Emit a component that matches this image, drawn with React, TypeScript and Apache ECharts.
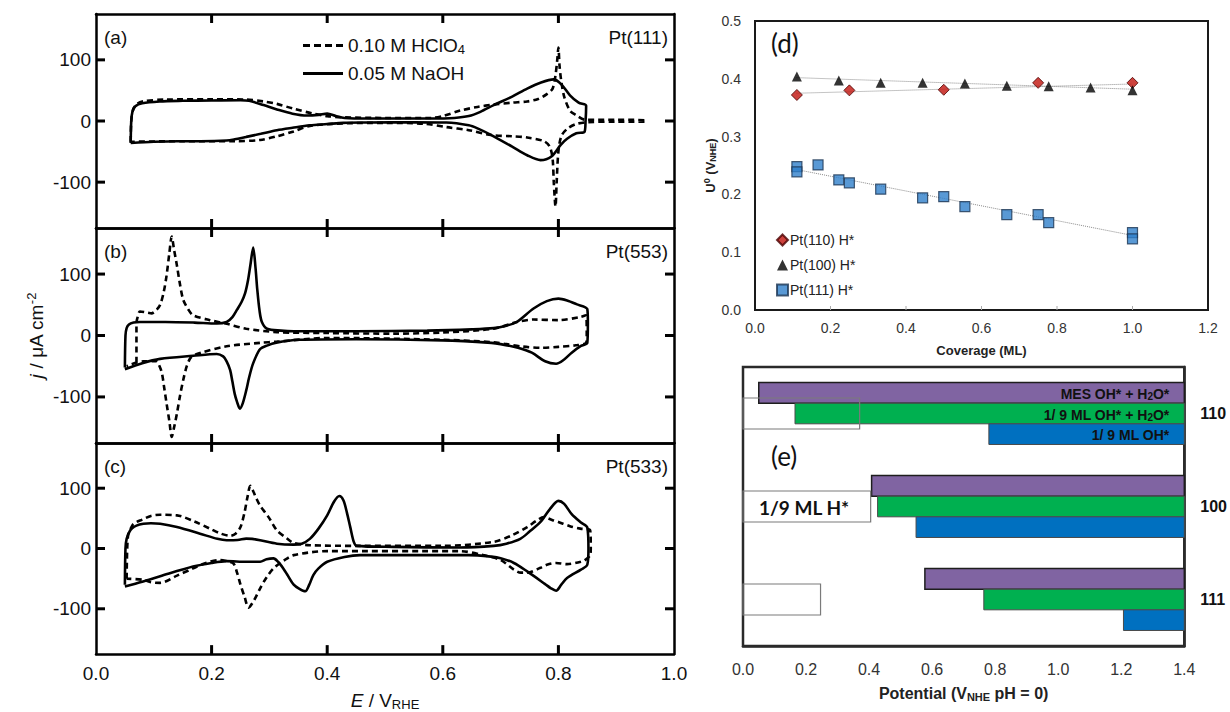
import React, { useEffect, useRef } from 'react';
import * as echarts from 'echarts';

// ---------- Panels (a)-(c): cyclic voltammograms, [E (V_RHE), j (uA cm-2)] ----------
const aHClO4: number[][] = [
  [0.06, -34], [0.061, 0], [0.064, 18], [0.07, 27], [0.08, 32], [0.12, 35], [0.2, 35.5], [0.26, 35], [0.29, 32],
  [0.313, 28], [0.342, 20], [0.376, 12], [0.4, 8], [0.428, 6], [0.5, 5], [0.58, 5], [0.6, 8], [0.63, 17], [0.66, 23],
  [0.688, 27], [0.72, 30], [0.746, 32], [0.765, 36], [0.78, 44], [0.79, 53], [0.795, 75], [0.798, 100], [0.8, 120],
  [0.802, 90], [0.805, 65], [0.81, 40], [0.82, 17], [0.83, 10], [0.847, 2], [0.9, 2], [0.951, 1],
  [0.951, -1], [0.9, -1], [0.85, -2], [0.83, -5], [0.815, -13], [0.805, -25], [0.8, -50], [0.797, -100], [0.795, -140],
  [0.792, -100], [0.79, -62], [0.785, -42], [0.775, -33], [0.746, -27], [0.72, -25], [0.684, -23], [0.645, -15],
  [0.606, -10], [0.568, -4.5], [0.5, -3], [0.428, -4], [0.37, -8], [0.342, -17], [0.313, -25], [0.284, -31],
  [0.24, -33], [0.15, -33], [0.06, -34],
];
const aNaOH: number[][] = [
  [0.06, -36], [0.061, 0], [0.063, 15], [0.068, 24], [0.08, 29], [0.11, 32], [0.15, 33], [0.2, 33.5], [0.25, 34],
  [0.265, 33], [0.29, 26], [0.313, 19], [0.34, 12], [0.365, 9], [0.385, 10], [0.4, 12], [0.415, 8], [0.43, 5],
  [0.47, 4], [0.52, 4], [0.58, 4], [0.62, 5], [0.645, 8], [0.665, 15], [0.688, 26], [0.72, 40], [0.746, 53],
  [0.77, 63], [0.792, 68], [0.805, 60], [0.82, 42], [0.835, 30], [0.848, 25], [0.847, 0], [0.845, -18],
  [0.831, -20], [0.815, -29], [0.804, -39], [0.788, -58], [0.769, -64], [0.746, -56], [0.72, -42], [0.684, -23],
  [0.66, -12], [0.645, -7], [0.606, -2.5], [0.55, -2], [0.47, -2.5], [0.428, -3], [0.4, -5], [0.37, -7], [0.34, -11],
  [0.313, -15], [0.285, -21], [0.26, -26], [0.24, -30], [0.226, -32], [0.18, -33], [0.14, -33], [0.1, -34], [0.06, -36],
];
const bHClO4: number[][] = [
  [0.07, -44], [0.07, 20], [0.072, 30], [0.076, 39], [0.09, 37], [0.096, 36], [0.105, 42], [0.111, 50], [0.117, 70],
  [0.122, 97], [0.127, 135], [0.131, 161], [0.135, 140], [0.14, 114], [0.145, 85], [0.151, 58], [0.16, 42],
  [0.168, 33], [0.197, 25], [0.226, 19], [0.26, 11], [0.313, 5.5], [0.4, 4], [0.515, 3], [0.6, 5], [0.688, 11],
  [0.728, 22], [0.757, 26], [0.8, 25], [0.838, 30], [0.848, 33], [0.849, 0], [0.848, -12],
  [0.83, -16], [0.8, -18.5], [0.77, -20], [0.738, -18], [0.71, -14], [0.688, -11], [0.6, -7], [0.4, -4],
  [0.313, -10], [0.284, -12], [0.226, -17.5], [0.18, -28.6], [0.168, -33], [0.163, -37], [0.157, -50],
  [0.151, -72], [0.145, -100], [0.14, -127], [0.135, -150], [0.131, -165], [0.127, -140], [0.122, -110],
  [0.118, -85], [0.114, -61], [0.109, -48], [0.105, -42], [0.082, -42], [0.053, -50],
];
const bNaOH: number[][] = [
  [0.05, -52], [0.051, 0], [0.053, 12], [0.057, 18], [0.065, 21], [0.076, 22], [0.12, 22], [0.17, 21], [0.209, 19.5],
  [0.226, 22], [0.236, 30], [0.244, 42], [0.252, 55], [0.258, 69], [0.263, 90], [0.267, 114], [0.272, 143],
  [0.276, 110], [0.279, 75], [0.283, 40], [0.287, 22], [0.296, 11], [0.32, 8], [0.342, 7], [0.45, 7], [0.573, 8],
  [0.65, 10], [0.688, 12], [0.71, 16], [0.728, 22], [0.757, 44], [0.78, 56], [0.8, 60], [0.815, 57], [0.831, 51],
  [0.85, 43], [0.851, 20], [0.85, -12],
  [0.839, -17], [0.823, -28], [0.81, -39], [0.796, -46], [0.777, -42], [0.754, -28], [0.73, -20], [0.7, -14],
  [0.684, -12], [0.6, -8], [0.45, -6], [0.35, -7], [0.31, -12], [0.297, -16], [0.284, -22], [0.272, -45],
  [0.265, -68], [0.26, -89], [0.254, -110], [0.249, -119], [0.244, -108], [0.24, -95], [0.236, -75], [0.232, -56],
  [0.226, -42], [0.22, -34], [0.209, -30], [0.168, -33], [0.111, -38], [0.08, -45], [0.05, -55],
];
const cHClO4: number[][] = [
  [0.053, -50], [0.054, 0], [0.056, 25], [0.06, 33], [0.065, 41], [0.08, 48], [0.095, 54], [0.111, 56], [0.14, 55],
  [0.17, 45], [0.197, 33], [0.215, 25], [0.232, 21], [0.242, 25], [0.25, 35.5], [0.257, 60], [0.262, 85],
  [0.267, 104], [0.272, 95], [0.278, 82], [0.284, 71], [0.3, 50], [0.313, 30], [0.33, 17], [0.342, 9.3],
  [0.37, 5.5], [0.45, 4.4], [0.6, 4.4], [0.688, 11], [0.72, 22], [0.746, 35.5], [0.762, 46], [0.775, 52],
  [0.79, 47], [0.8, 44], [0.82, 37], [0.838, 33], [0.855, 30], [0.856, 0], [0.855, -11],
  [0.845, -20], [0.839, -22], [0.815, -26], [0.796, -24], [0.78, -27], [0.769, -32], [0.746, -40], [0.735, -40],
  [0.723, -35], [0.7, -19], [0.67, -11], [0.63, -4.4], [0.4, -4.4], [0.342, -11], [0.325, -20], [0.307, -33],
  [0.295, -48], [0.284, -66], [0.274, -85], [0.264, -98], [0.257, -80], [0.25, -60], [0.244, -40], [0.238, -25],
  [0.226, -21], [0.215, -19], [0.19, -24], [0.168, -33], [0.14, -45], [0.111, -57], [0.095, -56], [0.082, -52],
  [0.053, -50],
];
const cNaOH: number[][] = [
  [0.05, -60], [0.051, 0], [0.053, 16], [0.058, 28], [0.062, 33], [0.07, 38], [0.082, 41], [0.095, 42], [0.111, 41],
  [0.14, 35.5], [0.18, 24.6], [0.21, 16], [0.226, 13.7], [0.245, 14], [0.26, 16.4], [0.27, 16], [0.284, 13.7],
  [0.313, 8], [0.342, 6.5], [0.356, 8], [0.37, 16], [0.385, 33], [0.4, 55], [0.412, 78], [0.421, 87], [0.428, 80],
  [0.434, 60], [0.44, 35], [0.446, 11], [0.451, 4.4], [0.515, 2.7], [0.63, 1.6], [0.688, 4.4], [0.71, 8],
  [0.734, 16], [0.75, 28], [0.769, 44], [0.785, 65], [0.8, 79], [0.81, 74], [0.823, 57], [0.839, 43], [0.85, 35],
  [0.852, 0], [0.85, -27],
  [0.839, -35], [0.815, -49], [0.805, -60], [0.796, -70], [0.787, -66], [0.777, -59], [0.746, -38], [0.723, -24],
  [0.7, -16], [0.684, -13.5], [0.645, -11], [0.55, -11], [0.457, -11], [0.43, -14], [0.4, -22], [0.385, -33],
  [0.376, -44], [0.369, -60], [0.362, -71], [0.352, -67], [0.342, -60], [0.332, -45], [0.324, -33], [0.315, -22],
  [0.307, -16.4], [0.295, -18], [0.284, -22], [0.26, -22], [0.226, -21], [0.2, -24], [0.168, -30], [0.111, -46],
  [0.08, -55], [0.05, -63],
];
const cvHClO4 = [aHClO4, bHClO4, cHClO4];
const cvNaOH = [aNaOH, bNaOH, cNaOH];
const cvTags = ['(a)', '(b)', '(c)'];
const cvSurfaces = ['Pt(111)', 'Pt(553)', 'Pt(533)'];
const cvXTicks = [0.2, 0.4, 0.6, 0.8];
const cvYTicks = [-100, 0, 100];
const cvXRange = [0, 1];
const cvYRange = [-175, 175];
const nameHClO4 = '0.10 M HClO4';
const nameNaOH = '0.05 M NaOH';

// ---------- Panel (d): U0 vs coverage ----------
const pt110: number[][] = [[0.111, 0.372], [0.25, 0.38], [0.5, 0.381], [0.75, 0.393], [1.0, 0.393]];
const pt100: number[][] = [
  [0.111, 0.404], [0.222, 0.397], [0.333, 0.393], [0.444, 0.393], [0.556, 0.392], [0.667, 0.388], [0.778, 0.387],
  [0.889, 0.385], [1.0, 0.38],
];
const pt111: number[][] = [
  [0.111, 0.248], [0.111, 0.239], [0.167, 0.251], [0.222, 0.225], [0.25, 0.22], [0.333, 0.209], [0.444, 0.194],
  [0.5, 0.196], [0.556, 0.179], [0.667, 0.165], [0.75, 0.165], [0.778, 0.151], [1.0, 0.134], [1.0, 0.123],
];
const trend110: number[][] = [[0.11, 0.375], [1.0, 0.391]];
const trend100: number[][] = [[0.11, 0.402], [1.0, 0.382]];
const trend111: number[][] = [[0.11, 0.243], [1.0, 0.129]];
const dXTicks = [0.2, 0.4, 0.6, 0.8, 1.0];
const dXRange = [0, 1.2];
const dYRange = [0, 0.5];

// ---------- Panel (e): onset potentials ----------
const eCategories = ['111', '100', '110'];
const eMesOHH2O = [0.577, 0.408, 0.05];
const eOHH2O = [0.764, 0.427, 0.165];
const eOH = [1.207, 0.549, 0.78];
const eH = [0.246, 0.405, 0.37];
const eMax = 1.4;
const eBarLabels = [
  ['', '', ''],
  ['', '', ''],
  ['{b|MES OH* + H}{s|2}{b|O*}', '{b|1/ 9 ML OH* + H}{s|2}{b|O*}', '{b|1/ 9 ML OH*}'],
];
const eHLabels = ['', '1/9 ML H*', ''];

const SANS = 'Liberation Sans, Arial, sans-serif';
const LATO = 'Lato, Liberation Sans, sans-serif';
const barFill = ['#8064a2', '#00b050', '#0070c0'];
const barStroke = ['#1e1e1e', '#4a4a4a', '#4a4a4a'];
const dashedIcon = 'path://M0,0h7v3h-7zM11,0h7v3h-7zM22,0h7v3h-7zM33,0h7v3h-7z';
const solidIcon = 'path://M0,0h40v3h-40z';

// Short tick segments drawn as tiny line series on the panel's own axes.
function tickLines(
  axisIdx: number, xr: number[], yr: number[], xTicks: number[], yTicks: number[],
  gridW: number, gridH: number, lenPx: number, color: string, width: number,
  sides: { top: boolean; bottom: boolean; left: boolean; right: boolean },
): any[] {
  const dy = (lenPx / gridH) * (yr[1] - yr[0]);
  const dx = (lenPx / gridW) * (xr[1] - xr[0]);
  const segs: number[][][] = [];
  xTicks.forEach((v) => {
    if (sides.bottom) segs.push([[v, yr[0]], [v, yr[0] + dy]]);
    if (sides.top) segs.push([[v, yr[1]], [v, yr[1] - dy]]);
  });
  yTicks.forEach((v) => {
    if (sides.left) segs.push([[xr[0], v], [xr[0] + dx, v]]);
    if (sides.right) segs.push([[xr[1], v], [xr[1] - dx, v]]);
  });
  return segs.map((seg) => ({
    type: 'line', xAxisIndex: axisIdx, yAxisIndex: axisIdx, data: seg, symbol: 'none', silent: true,
    clip: false, z: 6, lineStyle: { color, width, cap: 'butt' }, tooltip: { show: false },
  }));
}

function buildOption(): any {
  const grids: any[] = [];
  const xAxis: any[] = [];
  const yAxis: any[] = [];
  const series: any[] = [];
  const graphic: any[] = [];
  const cvTops = [14, 228, 443];
  const cvHeights = [214, 215, 214];
  const cvLine = () => ({ show: true, onZero: false, lineStyle: { color: '#000', width: 2.5 } });

  for (let i = 0; i < 3; i++) {
    grids.push({ left: 96, top: cvTops[i], width: 578, height: cvHeights[i], show: false });
    xAxis.push({
      type: 'value', gridIndex: i, min: cvXRange[0], max: cvXRange[1], interval: 0.2, position: 'bottom',
      axisLine: cvLine(), axisTick: { show: false }, splitLine: { show: false },
      axisLabel: {
        show: i === 2, fontSize: 19, color: '#111', fontFamily: SANS, margin: 10,
        formatter: (v: number) => v.toFixed(1),
      },
      ...(i === 2
        ? {
          name: '{i|E} / V{s|RHE}', nameLocation: 'middle', nameGap: 36,
          nameTextStyle: {
            fontSize: 19, color: '#111', fontFamily: SANS,
            rich: {
              i: { fontSize: 19, fontStyle: 'italic', fontFamily: SANS, color: '#111' },
              s: { fontSize: 13, fontFamily: SANS, color: '#111', verticalAlign: 'bottom', padding: [8, 0, 0, 0] },
            },
          },
        }
        : {}),
    });
    xAxis.push({
      type: 'value', gridIndex: i, min: cvXRange[0], max: cvXRange[1], interval: 0.2, position: 'top',
      axisLine: cvLine(), axisTick: { show: false }, splitLine: { show: false }, axisLabel: { show: false },
    });
    yAxis.push({
      type: 'value', gridIndex: i, min: cvYRange[0], max: cvYRange[1], position: 'left',
      axisLine: cvLine(), splitLine: { show: false }, axisTick: { show: false },
      axisLabel: { customValues: cvYTicks, fontSize: 19, color: '#111', fontFamily: SANS, margin: 5 },
      ...(i === 1
        ? {
          name: '{i|j} / μA cm{p|-2}', nameLocation: 'middle', nameRotate: 90, nameGap: 48,
          nameTextStyle: {
            fontSize: 19, color: '#111', fontFamily: SANS,
            rich: {
              i: { fontSize: 19, fontStyle: 'italic', fontFamily: SANS, color: '#111' },
              p: { fontSize: 13, fontFamily: SANS, color: '#111', verticalAlign: 'top', padding: [0, 0, 10, 0] },
            },
          },
        }
        : {}),
    });
    yAxis.push({
      type: 'value', gridIndex: i, min: cvYRange[0], max: cvYRange[1], position: 'right',
      axisLine: cvLine(), splitLine: { show: false }, axisTick: { show: false }, axisLabel: { show: false },
    });
    series.push({
      type: 'line', name: nameHClO4, xAxisIndex: 2 * i, yAxisIndex: 2 * i, data: cvHClO4[i],
      symbol: 'none', smooth: 0.3, lineStyle: { color: '#000', width: 2.6, type: [6, 4] },
      itemStyle: { color: '#000' },
    });
    series.push({
      type: 'line', name: nameNaOH, xAxisIndex: 2 * i, yAxisIndex: 2 * i, data: cvNaOH[i],
      symbol: 'none', smooth: 0.3, lineStyle: { color: '#000', width: 2.6, type: 'solid' },
      itemStyle: { color: '#000' },
    });
    series.push(...tickLines(2 * i, cvXRange, cvYRange, cvXTicks, cvYTicks, 578, cvHeights[i], 9, '#000', 3,
      { top: true, bottom: true, left: true, right: true }));
    const cy = cvTops[i] + 26;
    graphic.push({
      type: 'text', left: 104, top: cy - 12,
      style: { text: cvTags[i], font: `19px ${SANS}`, fill: '#111' },
    });
    graphic.push({
      type: 'text', right: 1230 - 668, top: cy - 12,
      style: { text: cvSurfaces[i], font: `19px ${SANS}`, fill: '#111' },
    });
  }

  // ---- panel (d)
  grids.push({ left: 755, top: 21, width: 453, height: 289, show: true, borderColor: '#1a1a1a', borderWidth: 2 });
  xAxis.push({
    type: 'value', gridIndex: 3, min: dXRange[0], max: dXRange[1], interval: 0.2,
    axisLine: { show: true, onZero: false, lineStyle: { color: '#1a1a1a', width: 2 } }, splitLine: { show: false },
    axisTick: { show: false },
    axisLabel: { fontSize: 14, color: '#333', fontFamily: SANS, margin: 11, formatter: (v: number) => v.toFixed(1) },
    name: 'Coverage (ML)', nameLocation: 'middle', nameGap: 34,
    nameTextStyle: { fontSize: 13, fontWeight: 'bold', color: '#222', fontFamily: SANS },
  });
  yAxis.push({
    type: 'value', gridIndex: 3, min: dYRange[0], max: dYRange[1], interval: 0.1,
    axisLine: { show: true, onZero: false, lineStyle: { color: '#1a1a1a', width: 2 } }, splitLine: { show: false },
    axisTick: { show: false },
    axisLabel: { fontSize: 14, color: '#333', fontFamily: SANS, margin: 14, formatter: (v: number) => v.toFixed(1) },
    name: '{b|U}{p|0}{b| (V}{s|NHE}{b|)}', nameLocation: 'middle', nameRotate: 90, nameGap: 34,
    nameTextStyle: {
      rich: {
        b: { fontSize: 13, fontWeight: 'bold', fontFamily: SANS, color: '#222' },
        p: { fontSize: 9, fontWeight: 'bold', fontFamily: SANS, color: '#222', verticalAlign: 'top', padding: [0, 0, 6, 0] },
        s: { fontSize: 9, fontWeight: 'bold', fontFamily: SANS, color: '#222', verticalAlign: 'bottom', padding: [5, 0, 0, 0] },
      },
    },
  });
  const trendStyle = { color: '#8a8a8a', width: 1, type: 'dotted' };
  [trend110, trend100, trend111].forEach((t) => {
    series.push({
      type: 'line', xAxisIndex: 6, yAxisIndex: 6, data: t, symbol: 'none', lineStyle: trendStyle,
      silent: true, z: 1,
    });
  });
  series.push({
    type: 'scatter', name: 'Pt(110) H*', xAxisIndex: 6, yAxisIndex: 6, data: pt110, symbol: 'diamond',
    symbolSize: 11, itemStyle: { color: '#c0130c', borderColor: '#4a0000', borderWidth: 1 }, z: 3,
  });
  series.push({
    type: 'scatter', name: 'Pt(100) H*', xAxisIndex: 6, yAxisIndex: 6, data: pt100, symbol: 'triangle',
    symbolSize: 10, itemStyle: { color: '#000' }, z: 3,
  });
  series.push({
    type: 'scatter', name: 'Pt(111) H*', xAxisIndex: 6, yAxisIndex: 6, data: pt111, symbol: 'rect',
    symbolSize: 10, itemStyle: { color: '#2f7fcb', borderColor: '#1b3553', borderWidth: 1.2 }, z: 3,
  });
  series.push(...tickLines(6, dXRange, dYRange, dXTicks, [], 453, 289, 4, '#aaaaaa', 1,
    { top: false, bottom: true, left: false, right: false }));
  graphic.push({
    type: 'text', left: 771, top: 30,
    style: { text: '(d)', font: `26px ${LATO}`, fill: '#111' },
  });

  // ---- panel (e)
  grids.push({ left: 743, top: 367, width: 443, height: 279, show: true, borderColor: '#2a2a2a', borderWidth: 2.5 });
  const eLine = () => ({ show: true, onZero: false, lineStyle: { color: '#2a2a2a', width: 2.5 } });
  xAxis.push({
    type: 'value', gridIndex: 4, min: 0, max: eMax, interval: 0.2,
    axisLine: eLine(), splitLine: { show: false }, axisTick: { show: false },
    axisLabel: { fontSize: 16, color: '#333', fontFamily: SANS, margin: 15, formatter: (v: number) => v.toFixed(1) },
    name: 'Potential (V{s|NHE}{b| pH = 0)}', nameLocation: 'middle', nameGap: 38,
    nameTextStyle: {
      fontSize: 16, fontWeight: 'bold', color: '#222', fontFamily: SANS,
      rich: {
        b: { fontSize: 16, fontWeight: 'bold', fontFamily: SANS, color: '#222' },
        s: { fontSize: 11, fontWeight: 'bold', fontFamily: SANS, color: '#222', verticalAlign: 'bottom', padding: [7, 0, 0, 0] },
      },
    },
  });
  yAxis.push({
    type: 'category', gridIndex: 4, data: eCategories, position: 'right',
    axisLine: eLine(), splitLine: { show: false }, axisTick: { show: false },
    axisLabel: { fontSize: 16, fontWeight: 'bold', color: '#111', fontFamily: SANS, margin: 16 },
  });

  const barData: any[] = [];
  [eMesOHH2O, eOHH2O, eOH].forEach((vals, slot) => {
    vals.forEach((v, cat) => barData.push([v, cat, slot]));
  });
  series.push({
    type: 'custom', xAxisIndex: 7, yAxisIndex: 7, data: barData, encode: { x: 0, y: 1 }, z: 2,
    renderItem: (params: any, api: any) => {
      const start = api.value(0);
      const cat = api.value(1);
      const slot = api.value(2);
      const p0 = api.coord([start, cat]);
      const p1 = api.coord([eMax, cat]);
      const band = api.size([0, 1])[1];
      const h = band * 0.222;
      const y = p0[1] - 1.5 * h + slot * h;
      const children: any[] = [{
        type: 'rect', shape: { x: p0[0], y, width: p1[0] - p0[0], height: h },
        style: { fill: barFill[slot], stroke: barStroke[slot], lineWidth: slot === 0 ? 1.5 : 1 },
      }];
      const lbl = eBarLabels[cat][slot];
      if (lbl) {
        children.push({
          type: 'text',
          style: {
            text: lbl, x: p1[0] - 15, y: y + h / 2 + 1, align: 'right', verticalAlign: 'middle',
            rich: {
              b: { fontSize: 14, fontWeight: 'bold', fontFamily: SANS, fill: '#111', lineHeight: 16 },
              s: { fontSize: 10, fontWeight: 'bold', fontFamily: SANS, fill: '#111', lineHeight: 10, verticalAlign: 'bottom', padding: [6, 0, 0, 0] },
            },
          },
        });
      }
      return { type: 'group', children };
    },
  });
  series.push({
    type: 'custom', xAxisIndex: 7, yAxisIndex: 7, data: eH.map((v, cat) => [v, cat]), encode: { x: 0, y: 1 }, z: 4,
    renderItem: (params: any, api: any) => {
      const v = api.value(0);
      const cat = api.value(1);
      const p0 = api.coord([0, cat]);
      const p1 = api.coord([v, cat]);
      const band = api.size([0, 1])[1];
      const h = band / 3;
      const children: any[] = [{
        type: 'rect', shape: { x: p0[0], y: p0[1] - h / 2, width: p1[0] - p0[0], height: h },
        style: { fill: 'none', stroke: '#7a7a7a', lineWidth: 1.2 },
      }];
      const lbl = eHLabels[cat];
      if (lbl) {
        children.push({
          type: 'text',
          style: {
            text: lbl, x: p0[0] + 16, y: p0[1] + 1, align: 'left', verticalAlign: 'middle',
            font: `bold 19px ${LATO}`, fill: '#111',
          },
        });
      }
      return { type: 'group', children };
    },
  });
  graphic.push({
    type: 'text', left: 771, top: 443,
    style: { text: '(e)', font: `26px ${LATO}`, fill: '#111' },
  });

  return {
    animation: false,
    backgroundColor: '#fff',
    grid: grids,
    xAxis,
    yAxis,
    series,
    graphic,
    legend: [
      {
        data: [{ name: nameHClO4, icon: dashedIcon }, { name: nameNaOH, icon: solidIcon }],
        orient: 'vertical', left: 298, top: 31, itemWidth: 40, itemHeight: 14,
        itemGap: 8, selectedMode: false, itemStyle: { color: '#000' },
        formatter: (n: string) => (n === nameHClO4 ? '{t|0.10 M HClO}{s|4}' : '{t|0.05 M NaOH}'),
        textStyle: {
          fontSize: 19, fontFamily: SANS, color: '#111',
          rich: {
            t: { fontSize: 19, fontFamily: SANS, color: '#111' },
            s: { fontSize: 13, fontFamily: SANS, color: '#111', verticalAlign: 'bottom', padding: [8, 0, 0, 0] },
          },
        },
      },
      {
        data: ['Pt(110) H*', 'Pt(100) H*', 'Pt(111) H*'], orient: 'vertical', left: 771, top: 228,
        itemWidth: 11, itemHeight: 11, itemGap: 11, selectedMode: false,
        textStyle: { fontSize: 14, fontFamily: SANS, color: '#222', padding: [0, 0, 0, -3] },
      },
    ],
  };
}

export default function App() {
  const ref = useRef<HTMLDivElement>(null);
  useEffect(() => {
    if (!ref.current) return;
    const chart = echarts.init(ref.current, undefined, { renderer: 'svg' });
    chart.setOption(buildOption());
    return () => chart.dispose();
  }, []);
  return (
    <div
      ref={ref}
      style={{ position: 'fixed', left: 0, top: 0, width: 1230, height: 712, background: '#fff' }}
    />
  );
}
